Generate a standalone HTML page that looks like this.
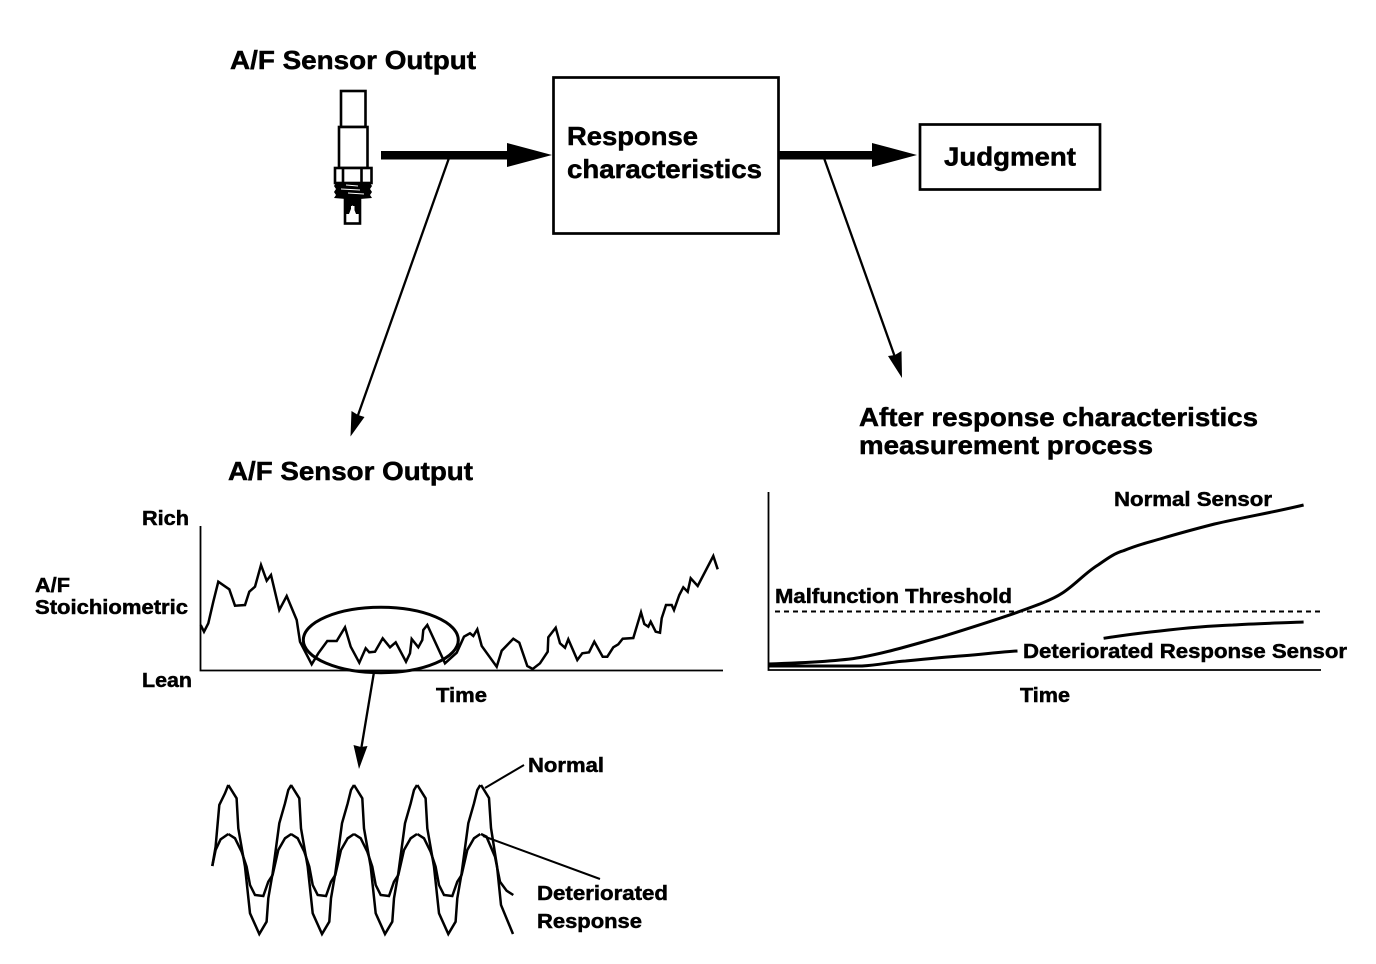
<!DOCTYPE html>
<html lang="en">
<head>
<meta charset="utf-8">
<title>A/F Sensor Response Diagram</title>
<style>
html,body{margin:0;padding:0;background:#fff;width:1376px;height:964px;overflow:hidden}
svg{display:block}
text{font-family:"Liberation Sans",Arial,sans-serif;font-weight:bold;fill:#000;stroke:#000;stroke-width:.5px}
.l{font-size:26px}.s{font-size:20.5px}
.c{fill:none;stroke:#000;stroke-linejoin:miter}
</style>
</head>
<body>
<svg width="1376" height="964" viewBox="0 0 1376 964" xmlns="http://www.w3.org/2000/svg">
<rect width="1376" height="964" fill="#fff"/>
<defs>
<g id="n">
<polyline class="c" stroke-width="2.5" points="228.3,785 236.6,798.3 238.3,828.3 245,866.7 250,913.3 259.3,934 266.6,921.7 268.3,898.3 272.6,873.3 279.3,823.3 285,803.3 288.3,790 291.3,785"/>
</g>
<g id="d">
<polyline class="c" stroke-width="2.5" points="228.3,834 235,838.3 241.6,851.7 246.6,866.7 250,885 255,895 263.3,896 268.3,881.7 272.6,875 278.3,850 285,838.3 291.3,834"/>
</g>
</defs>

<!-- Sensor -->
<rect x="341" y="91" width="24.5" height="36" fill="#fff" stroke="#000" stroke-width="2.6"/>
<rect x="339" y="127" width="28.5" height="41" fill="#fff" stroke="#000" stroke-width="2.6"/>
<rect x="335" y="168" width="36.5" height="15" fill="#fff" stroke="#000" stroke-width="2.6"/>
<path d="M343 168V183M361.5 168V183" stroke="#000" stroke-width="2.6"/>
<rect x="345" y="198" width="15" height="25.5" fill="#fff" stroke="#000" stroke-width="2.6"/>
<polygon points="336,183 370,183 372,186 370,189 372,192 370,195 372,198 360,199 346,199 334,198 336,195 334,192 336,189 334,186" fill="#000"/>
<path d="M346 185L358 186M341 189L360 190M348 193L364 194" stroke="#fff" stroke-width="1"/>
<path d="M346 198H359V214H356L352.5 205L349 214H346Z" fill="#000"/>
<rect x="351" y="206" width="3.5" height="5" fill="#fff"/>

<!-- Thick arrows -->
<rect x="381" y="151" width="127" height="8.5" fill="#000"/>
<polygon points="507,143 552,155 507,167" fill="#000"/>
<rect x="779" y="151" width="94" height="8.5" fill="#000"/>
<polygon points="872,143 917,155 872,167" fill="#000"/>

<!-- Boxes -->
<rect x="553.5" y="77.5" width="225" height="156" fill="#fff" stroke="#000" stroke-width="2.7"/>
<rect x="920" y="124.5" width="180" height="65" fill="#fff" stroke="#000" stroke-width="2.7"/>

<!-- Thin arrows -->
<line x1="449" y1="158" x2="357" y2="418" stroke="#000" stroke-width="2.3"/>
<polygon points="350.5,436.5 351.5,411 358,415 364.5,417" fill="#000"/>
<line x1="824" y1="158" x2="896" y2="360" stroke="#000" stroke-width="2.3"/>
<polygon points="902,378 888,356 895,355 901.5,351" fill="#000"/>
<line x1="374" y1="672" x2="361" y2="750" stroke="#000" stroke-width="2.3"/>
<polygon points="359,769 353.5,745 361,747 367.5,746" fill="#000"/>

<!-- Left chart -->
<path d="M200.5 526V670.5H723" class="c" stroke-width="1.8"/>
<polyline class="c" stroke-width="2.5" points="200.7,625 204,631.7 208.3,623.3 213.3,601.7 218.3,581.7 229.3,589.3 235,605.7 245,605 249.3,591.7 255,586.7 261,565 266.7,580.7 271,575 279.3,610 286.7,596 296.7,620 300,641.7 311.7,664.3 318.3,653.3 327.3,641 336.7,641 345,627.3 350.7,646.7 359.3,662.7 365.7,648.3 369.3,652.3 375,651.7 382.7,638.3 390,647.3 395.7,642.3 406,661.7 410,653.3 411.7,639 418.3,647.3 422.3,640 423.3,630 427.3,625 445,663.3 456.7,652.7 464,636.7 470,633.3 473.3,636 477.3,629.3 481.7,646 496.7,666.7 501.7,650.7 513.3,638.7 519.3,642.7 527.3,666 532.7,669 540,663.3 547.7,651.7 548.3,637.3 555.7,627.7 560,643.3 565,647.7 568.3,639.3 577.3,660 582.3,653.3 589,652.3 594.3,641.7 602.7,656.7 607.3,656.7 613.3,647.3 618.3,644.3 622.7,638.7 633.3,638 641,612.3 644.3,624 648.3,626.7 650.7,621.7 655.7,631.7 660,632.7 661.7,618.3 666,605 671.7,605 674,610 679.3,595 683.3,587.3 687.7,591.7 690.7,578.3 697.7,586 713.3,556 717.7,569.3"/>
<ellipse cx="380.8" cy="640" rx="77.5" ry="32.7" fill="none" stroke="#000" stroke-width="3"/>

<!-- Sine waves -->
<polyline class="c" stroke-width="2.5" points="212.3,866 215.6,846.7 219.3,805 225,793.3 228.3,785"/>
<polyline class="c" stroke-width="2.5" points="212.3,866 215.6,850 220.6,839.3 228.3,834"/>
<use href="#n"/><use href="#n" x="62.7"/><use href="#n" x="125.7"/><use href="#n" x="189"/>
<use href="#d"/><use href="#d" x="62.7"/><use href="#d" x="125.7"/><use href="#d" x="189"/>
<polyline class="c" stroke-width="2.5" points="481,785 489,798 491,828 497,866 501,905 513,934"/>
<polyline class="c" stroke-width="2.5" points="481,834 486.5,836.7 495,856.7 500,881.7 506.6,890.7 513.3,895"/>
<line x1="485" y1="788" x2="524" y2="765" stroke="#000" stroke-width="2"/>
<line x1="483" y1="836" x2="600" y2="879" stroke="#000" stroke-width="2"/>

<!-- Right chart -->
<path d="M768.5 492V670H1321" class="c" stroke-width="1.8"/>
<line x1="775" y1="611.5" x2="1323" y2="611.5" stroke="#000" stroke-width="2" stroke-dasharray="5 4"/>
<path class="c" stroke-width="3" d="M768 664C800 663 840 661 860 657.5C890 652 915 644 942 636.7C970 628 995 620 1014.5 613.3C1035 606 1052 600 1062 593.3C1075 585 1085 573 1098 565C1108 558 1115 553 1123.6 550.7C1140 544 1150 542 1160 539C1180 533 1195 529 1214.5 524C1245 517 1275 512 1303.6 505"/>
<path class="c" stroke-width="3" d="M768 666H862C880 665 890 662 905.5 661C925 659 945 657 963.6 655.7C985 654 1000 652 1017.5 651"/>
<path class="c" stroke-width="3" d="M1103.6 638.3C1125 635 1140 633 1160 631C1185 628 1205 626 1232.7 625C1255 623.5 1280 623 1303.6 622"/>

<!-- Labels -->
<text class="l" x="230" y="69" textLength="246" lengthAdjust="spacingAndGlyphs">A/F Sensor Output</text>
<text class="l" x="567" y="145" textLength="131" lengthAdjust="spacingAndGlyphs">Response</text>
<text class="l" x="567" y="178" textLength="195" lengthAdjust="spacingAndGlyphs">characteristics</text>
<text class="l" x="944" y="165.5" textLength="132" lengthAdjust="spacingAndGlyphs">Judgment</text>
<text class="l" x="859" y="426" textLength="399" lengthAdjust="spacingAndGlyphs">After response characteristics</text>
<text class="l" x="859" y="454" textLength="294" lengthAdjust="spacingAndGlyphs">measurement process</text>
<text class="l" x="228" y="480" textLength="245" lengthAdjust="spacingAndGlyphs">A/F Sensor Output</text>
<text class="s" x="142" y="525" textLength="47" lengthAdjust="spacingAndGlyphs">Rich</text>
<text class="s" x="35" y="592" textLength="35" lengthAdjust="spacingAndGlyphs">A/F</text>
<text class="s" x="35" y="614" textLength="153" lengthAdjust="spacingAndGlyphs">Stoichiometric</text>
<text class="s" x="142" y="687" textLength="50" lengthAdjust="spacingAndGlyphs">Lean</text>
<text class="s" x="436" y="702" textLength="51" lengthAdjust="spacingAndGlyphs">Time</text>
<text class="s" x="528" y="772" textLength="76" lengthAdjust="spacingAndGlyphs">Normal</text>
<text class="s" x="537" y="900" textLength="131" lengthAdjust="spacingAndGlyphs">Deteriorated</text>
<text class="s" x="537" y="928" textLength="105" lengthAdjust="spacingAndGlyphs">Response</text>
<text class="s" x="1114" y="506" textLength="158" lengthAdjust="spacingAndGlyphs">Normal Sensor</text>
<text class="s" x="775" y="603" textLength="237" lengthAdjust="spacingAndGlyphs">Malfunction Threshold</text>
<text class="s" x="1023" y="658" textLength="324" lengthAdjust="spacingAndGlyphs">Deteriorated Response Sensor</text>
<text class="s" x="1020" y="702" textLength="50" lengthAdjust="spacingAndGlyphs">Time</text>
</svg>
</body>
</html>
